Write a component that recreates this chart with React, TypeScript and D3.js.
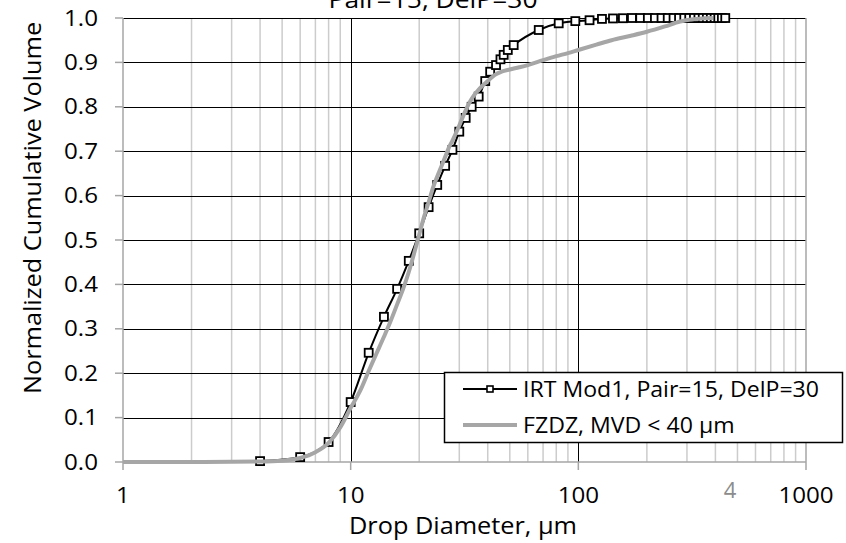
import * as d3 from 'd3';

// IRT Mod1 measured cumulative volume (markers)
const irtDiameter = [4, 6, 8, 10, 12, 14, 16, 18, 20, 22, 24, 26, 28, 30, 32, 34, 36.5, 39, 41, 43.5, 45.5, 47, 49, 52,
  67, 82, 97, 112, 127, 142, 157, 172, 187, 202, 217, 232, 247, 262, 277, 292, 307, 322, 337, 352, 367, 382, 397, 412, 427, 442];
const irtVolume = [0.002, 0.011, 0.045, 0.135, 0.246, 0.327, 0.39, 0.453, 0.515, 0.574, 0.624, 0.667, 0.703, 0.744, 0.775, 0.8, 0.823, 0.858, 0.879, 0.894, 0.907, 0.917, 0.928, 0.939,
  0.973, 0.988, 0.993, 0.995, 0.998, 0.999, 0.9995, 1, 1, 1, 1, 1, 1, 1, 1, 1, 1, 1, 1, 1, 1, 1, 1, 1, 1, 1];

// FZDZ envelope, MVD < 40 um (grey line)
const fzdzDiameter = [1, 2, 3, 4, 5, 6, 7, 8, 9, 10, 11, 12, 13, 14, 15, 16, 17, 18, 19, 20, 21, 22, 23, 24, 25, 26, 27, 28, 30, 32, 34, 36, 38, 40, 43, 46, 50, 55, 60, 70, 80, 90, 100, 120, 140, 170, 200, 240, 280, 320, 360, 390];
const fzdzVolume = [0, 0, 0.0005, 0.001, 0.003, 0.009, 0.022, 0.043, 0.078, 0.122, 0.16, 0.205, 0.245, 0.282, 0.318, 0.355, 0.39, 0.428, 0.47, 0.512, 0.552, 0.585, 0.618, 0.643, 0.665, 0.687, 0.708, 0.724, 0.758, 0.792, 0.818, 0.835, 0.848, 0.858, 0.872, 0.879, 0.884, 0.889, 0.894, 0.905, 0.914, 0.921, 0.928, 0.94, 0.95, 0.96, 0.969, 0.981, 0.992, 0.997, 0.9995, 1];

const xTicks = [1, 10, 100, 1000];
const yTicks = [0, 0.1, 0.2, 0.3, 0.4, 0.5, 0.6, 0.7, 0.8, 0.9, 1.0];
const seriesNames = ['IRT Mod1, Pair=15, DelP=30', 'FZDZ, MVD < 40 µm'];
const chartTitle = 'Pair=15, DelP=30';
const xTitle = 'Drop Diameter, µm';
const yTitle = 'Normalized Cumulative Volume';
const pageMark = '4';

const W = 846;
const H = 543;
const M = { left: 123, right: 806, top: 18, bottom: 462 };
const FONT = '"Open Sans", "Noto Sans", sans-serif';
const AXIS_GREY = '#a6a6a6';
const MINOR_GREY = '#cccccc';
const FZDZ_GREY = '#a6a6a6';

function Txt(props: { x: number; y: number; size: number; sx?: number; rotate?: number; anchor?: string; fill?: string; children: any }) {
  const { x, y, size, sx = 1, rotate = 0, anchor = 'middle', fill = '#000', children } = props;
  return (
    <text
      transform={`translate(${x},${y}) rotate(${rotate}) scale(${sx},1)`}
      fontSize={size}
      fontFamily={FONT}
      textAnchor={anchor as any}
      fill={fill}
    >
      {children}
    </text>
  );
}

const crisp = (v: number) => Math.round(v) + 0.5;

export default function App() {
  const x = d3.scaleLog().domain([1, 1000]).range([M.left, M.right]);
  const y = d3.scaleLinear().domain([0, 1]).range([M.bottom, M.top]);

  const line = d3.line<[number, number]>()
    .x(d => x(d[0]))
    .y(d => y(d[1]))
    .curve(d3.curveMonotoneX);

  const irtPts = irtDiameter.map((d, i) => [d, irtVolume[i]] as [number, number]);
  const fzdzPts = fzdzDiameter.map((d, i) => [d, fzdzVolume[i]] as [number, number]);

  const minor = x.ticks().filter(t => !xTicks.includes(t));
  const fmt = d3.format('.1f');

  const mk = 8; // marker size

  return (
    <>
      <style>{`body{margin:0}`}</style>
      <svg width={W} height={H} style={{ display: 'block', background: '#fff' }}>
        {/* minor vertical gridlines */}
        {minor.map(t => (
          <line key={'m' + t} x1={x(t)} x2={x(t)} y1={M.top} y2={M.bottom} stroke={MINOR_GREY} strokeWidth={1.5} />
        ))}
        {/* horizontal gridlines */}
        {yTicks.filter(t => t > 0).map(t => (
          <line key={'h' + t} x1={M.left} x2={M.right} y1={crisp(y(t))} y2={crisp(y(t))} stroke="#000" strokeWidth={1} />
        ))}
        {/* major vertical gridlines */}
        {xTicks.slice(1, -1).map(t => (
          <line key={'v' + t} x1={crisp(x(t))} x2={crisp(x(t))} y1={M.top} y2={M.bottom} stroke="#000" strokeWidth={1} />
        ))}
        <line x1={x(1000)} x2={x(1000)} y1={M.top} y2={M.bottom} stroke={AXIS_GREY} strokeWidth={1.5} />

        {/* axes */}
        <line x1={M.left} x2={M.left} y1={M.top} y2={M.bottom} stroke={AXIS_GREY} strokeWidth={1.5} />
        <line x1={M.left} x2={M.right} y1={M.bottom} y2={M.bottom} stroke={AXIS_GREY} strokeWidth={1.5} />
        {yTicks.map(t => (
          <line key={'yt' + t} x1={M.left - 8} x2={M.left} y1={y(t)} y2={y(t)} stroke={AXIS_GREY} strokeWidth={1.5} />
        ))}
        {xTicks.map(t => (
          <line key={'xt' + t} x1={x(t)} x2={x(t)} y1={M.bottom} y2={M.bottom + 8} stroke={AXIS_GREY} strokeWidth={1.5} />
        ))}

        {/* tick labels */}
        {yTicks.map(t => (
          <Txt key={'yl' + t} x={98} y={y(t) + 7.5} size={21} sx={1.15} anchor="end">{fmt(t)}</Txt>
        ))}
        {xTicks.map(t => (
          <Txt key={'xl' + t} x={x(t)} y={503} size={21} sx={1.15}>{String(t)}</Txt>
        ))}

        {/* series */}
        <path d={line(irtPts) || ''} fill="none" stroke="#000" strokeWidth={2} />
        {irtPts.map((p, i) => (
          <rect key={'p' + i} x={x(p[0]) - mk / 2} y={y(p[1]) - mk / 2} width={mk} height={mk} fill="#fff" stroke="#000" strokeWidth={1.8} />
        ))}
        <path d={line(fzdzPts) || ''} fill="none" stroke={FZDZ_GREY} strokeWidth={4} />

        {/* titles */}
        <Txt x={433} y={8} size={23} sx={1.15}>{chartTitle}</Txt>
        <Txt x={463} y={534} size={23} sx={1.1}>{xTitle}</Txt>
        <Txt x={41} y={208} size={23} sx={1.1} rotate={-90}>{yTitle}</Txt>
        <Txt x={730} y={498} size={22} fill="#8c8c8c">{pageMark}</Txt>

        {/* legend */}
        <g>
          <rect x={444.5} y={372.5} width={398} height={70} fill="#fff" stroke="#000" strokeWidth={1.5} />
          <line x1={463} x2={517} y1={389} y2={389} stroke="#000" strokeWidth={2} />
          <rect x={487} y={386} width={6} height={6} fill="#fff" stroke="#000" strokeWidth={1.6} />
          <Txt x={523} y={397} size={22} sx={1.05} anchor="start">{seriesNames[0]}</Txt>
          <line x1={463} x2={517} y1={425} y2={425} stroke={FZDZ_GREY} strokeWidth={4} />
          <Txt x={523} y={433} size={22} sx={1.05} anchor="start">{seriesNames[1]}</Txt>
        </g>
      </svg>
    </>
  );
}
